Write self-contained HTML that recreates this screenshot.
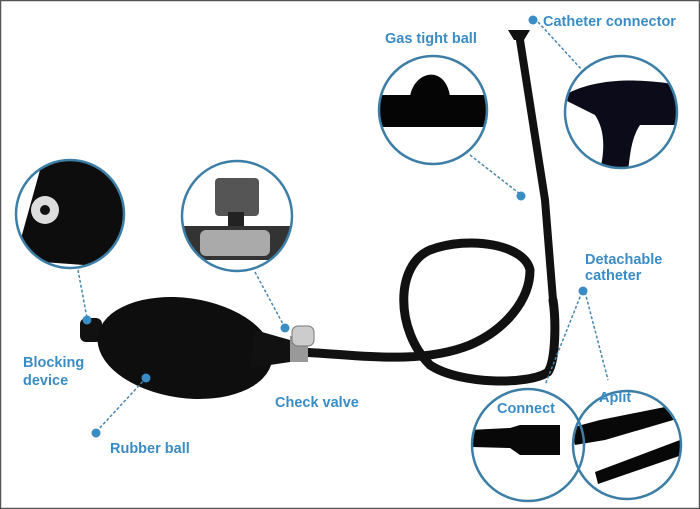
<!DOCTYPE html>
<html><head><style>
html,body{margin:0;padding:0;background:#fff}
svg{display:block}
text{font-family:"Liberation Sans",sans-serif;font-weight:bold;fill:#3a8cc4;font-size:14.5px}
</style></head><body>
<svg width="700" height="509" viewBox="0 0 700 509">
<rect x="0.5" y="0.5" width="699" height="508" fill="#fff" stroke="#555" stroke-width="1.5"/>
<defs>
<clipPath id="cA"><circle cx="70" cy="214" r="54"/></clipPath>
<clipPath id="cB"><circle cx="237" cy="216" r="55"/></clipPath>
<clipPath id="cC"><circle cx="433" cy="110" r="54"/></clipPath>
<clipPath id="cD"><circle cx="621" cy="112" r="56"/></clipPath>
<clipPath id="cE"><circle cx="528" cy="445" r="56"/></clipPath>
<clipPath id="cF"><circle cx="627" cy="445" r="54"/></clipPath>
</defs>
<!-- hose & catheter -->
<g fill="none" stroke="#111" stroke-linecap="round">
<path d="M300 352 C360 355 420 365 470 345 C505 330 530 300 530 270 C525 245 470 235 430 250 C395 265 395 330 430 365 C460 385 530 385 548 372 C556 360 556 320 553 300" stroke-width="9"/>
<path d="M553 300 L545 200 L520 40" stroke-width="8"/>
</g>
<path d="M508 30 L530 30 L524 40 L514 40 Z" fill="#111"/>
<!-- bulb -->
<rect x="80" y="318" width="22" height="24" rx="6" fill="#111"/>
<ellipse cx="185" cy="348" rx="88" ry="50" fill="#0e0e0e" transform="rotate(8 185 348)"/>
<path d="M255 330 L290 340 L290 362 L250 368 Z" fill="#111"/>
<rect x="290" y="336" width="18" height="26" fill="#999"/>
<rect x="292" y="326" width="22" height="20" rx="6" fill="#ccc" stroke="#777"/>
<!-- circles content -->
<g clip-path="url(#cA)">
<path d="M15 260 L40 170 C60 150 110 150 125 170 L125 268 Z" fill="#0d0d0d"/>
<circle cx="45" cy="210" r="14" fill="#ddd"/><circle cx="45" cy="210" r="5" fill="#111"/>
</g>
<g clip-path="url(#cB)">
<rect x="215" y="178" width="44" height="38" rx="4" fill="#555"/>
<rect x="228" y="212" width="16" height="14" fill="#222"/>
<rect x="182" y="226" width="110" height="34" fill="#333"/>
<rect x="200" y="230" width="70" height="26" rx="6" fill="#aaa"/>
</g>
<g clip-path="url(#cC)">
<rect x="378" y="95" width="110" height="32" fill="#050505"/>
<path d="M410 96 C415 70 445 65 450 96 Z" fill="#050505"/>
</g>
<g clip-path="url(#cD)">
<path d="M565 95 C600 75 650 80 680 85 L680 125 L640 125 C630 140 630 160 628 170 L600 170 C605 150 605 130 595 115 L565 100 Z" fill="#0b0b1a"/>
</g>
<g clip-path="url(#cE)">
<path d="M470 430 L510 428 L520 425 L560 425 L560 455 L520 455 L510 448 L470 447 Z" fill="#080808"/>
</g>
<g clip-path="url(#cF)">
<path d="M570 428 L600 420 L680 404 L680 418 L605 440 L575 445 Z" fill="#080808"/>
<path d="M595 472 L680 440 L682 455 L598 484 Z" fill="#080808"/>
</g>
<!-- circle outlines -->
<g fill="none" stroke="#3d7ea6" stroke-width="2.5">
<circle cx="70" cy="214" r="54"/><circle cx="237" cy="216" r="55"/>
<circle cx="433" cy="110" r="54"/><circle cx="621" cy="112" r="56"/>
<circle cx="528" cy="445" r="56"/><circle cx="627" cy="445" r="54"/>
</g>
<!-- connectors -->
<g stroke="#4a86aa" stroke-width="1.5" stroke-dasharray="3,2" fill="none">
<path d="M78 270 L87 318"/><path d="M255 272 L284 326"/>
<path d="M146 378 L97 431"/><path d="M470 155 L520 194"/>
<path d="M538 22 L582 70"/><path d="M582 292 L545 385"/><path d="M585 292 L608 380"/>
</g>
<g fill="#3a8cc4">
<circle cx="87" cy="320" r="4.5"/><circle cx="285" cy="328" r="4.5"/>
<circle cx="146" cy="378" r="4.5"/><circle cx="96" cy="433" r="4.5"/>
<circle cx="521" cy="196" r="4.5"/><circle cx="533" cy="20" r="4.5"/>
<circle cx="583" cy="291" r="4.5"/>
</g>
<text x="543" y="26">Catheter connector</text>
<text x="385" y="43">Gas tight ball</text>
<text x="23" y="367">Blocking</text>
<text x="23" y="385">device</text>
<text x="275" y="407">Check valve</text>
<text x="110" y="453">Rubber ball</text>
<text x="585" y="264">Detachable</text>
<text x="585" y="280">catheter</text>
<text x="497" y="413">Connect</text>
<text x="599" y="402">Aplit</text>
</svg>
</body></html>
